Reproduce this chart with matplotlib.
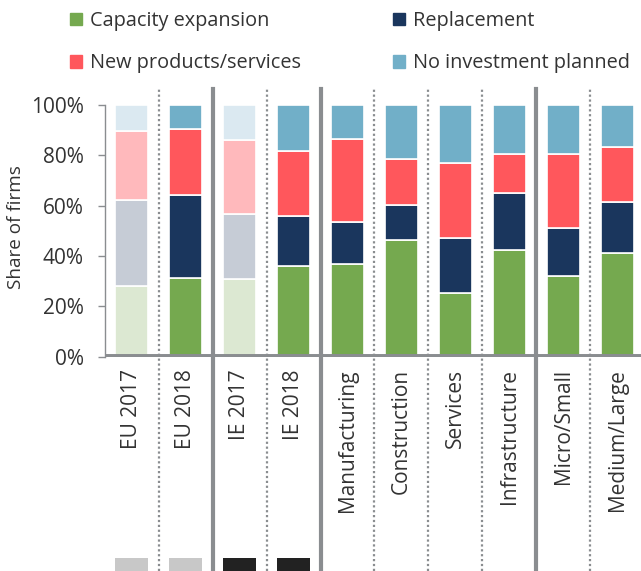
import numpy as np
import matplotlib.pyplot as plt
from matplotlib.patches import Patch

plt.rcParams['font.family'] = ['Open Sans', 'DejaVu Sans']

# data, share of firms in %
categories = ['EU 2017', 'EU 2018', 'IE 2017', 'IE 2018', 'Manufacturing',
              'Construction', 'Services', 'Infrastructure', 'Micro/Small',
              'Medium/Large']
capacity = [28.2, 31.1, 30.7, 36.1, 36.9, 46.2, 25.4, 42.5, 32.1, 41.0]
replacement = [33.8, 33.2, 26.0, 19.9, 16.5, 13.9, 21.8, 22.6, 19.1, 20.5]
new_products = [27.7, 26.2, 29.3, 25.5, 33.0, 18.5, 29.8, 15.3, 29.1, 21.7]
no_investment = [10.3, 9.5, 14.0, 18.5, 13.6, 21.4, 23.0, 19.6, 19.7, 16.8]
faded = [0, 2]  # 2017 bars drawn in pale colours

labels = ['Capacity expansion', 'Replacement', 'New products/services',
          'No investment planned']
colors = ['#75a94f', '#1a365d', '#ff575c', '#71afc8']
pale = ['#dce8d2', '#c6ccd6', '#ffb9bc', '#dbe9f1']

# little squares at the bottom of the picture
marker_idx = [0, 1, 2, 3]
marker_col = ['#c8c8c8', '#c8c8c8', '#222222', '#222222']

gray = '#8a8d90'
txt = '#333333'

fig = plt.figure(figsize=(6.41, 5.71), dpi=100)
ax = fig.add_axes([104.7/641, (571-356.7)/571, (641-104.7)/641, 252/571])

x = np.arange(len(categories))
series = [capacity, replacement, new_products, no_investment]
bottom = np.zeros(len(categories))
for vals, c, pc in zip(series, colors, pale):
    vals = np.array(vals)
    cols = [pc if i in faded else c for i in range(len(categories))]
    ax.bar(x, vals, 0.62, bottom=bottom, color=cols, edgecolor='white',
           linewidth=1.2, zorder=2)
    bottom += vals

ax.set_xlim(-0.5, 9.44)
ax.set_ylim(0, 100)

# separators
seps_solid = [1.5, 3.5, 7.5]
seps_dot = [0.5, 2.5, 4.5, 5.5, 6.5, 8.5]
lo = (356.7-571)/252
hi = (356.7-89)/252
for s in seps_solid:
    ax.axvline(s, lo, hi, color=gray, lw=3, clip_on=False, zorder=3)
for s in seps_dot:
    ax.axvline(s, lo, hi, color=gray, lw=1.6, ls=(0, (1, 1.2)),
               clip_on=False, zorder=3)

ax.axhline(0, color=gray, lw=5, zorder=4, solid_capstyle='butt')

ax.bar([x[i] for i in marker_idx], 6, 0.62, bottom=-85.8,
       color=marker_col, clip_on=False, zorder=2)

for sp in ['top', 'right', 'bottom']:
    ax.spines[sp].set_visible(False)
ax.spines['left'].set_color(gray)
ax.spines['left'].set_linewidth(1)

ax.set_yticks([0, 20, 40, 60, 80, 100])
ax.set_yticklabels(['0%', '20%', '40%', '60%', '80%', '100%'])
ax.tick_params(axis='y', colors=gray, length=5, width=1, labelcolor=txt,
               labelsize=15, pad=10)
ax.set_xticks(x)
ax.set_xticklabels(categories, rotation=90, color=txt, fontsize=15)
ax.tick_params(axis='x', length=0, pad=9)
ax.set_ylabel('Share of firms', fontsize=13.6, color=txt)
ax.yaxis.set_label_coords(-0.149, 0.515)

handles = [Patch(color=c) for c in colors]
order = [0, 2, 1, 3]
fig.legend([handles[i] for i in order], [labels[i] for i in order],
           ncol=2, loc='upper left', bbox_to_anchor=(0.082, 1.012),
           frameon=False, fontsize=14.3, handlelength=0.6, handleheight=0.6,
           handletextpad=0.4, columnspacing=4.6, labelspacing=1.12,
           labelcolor=txt)

fig.savefig('out.png', dpi=100)
